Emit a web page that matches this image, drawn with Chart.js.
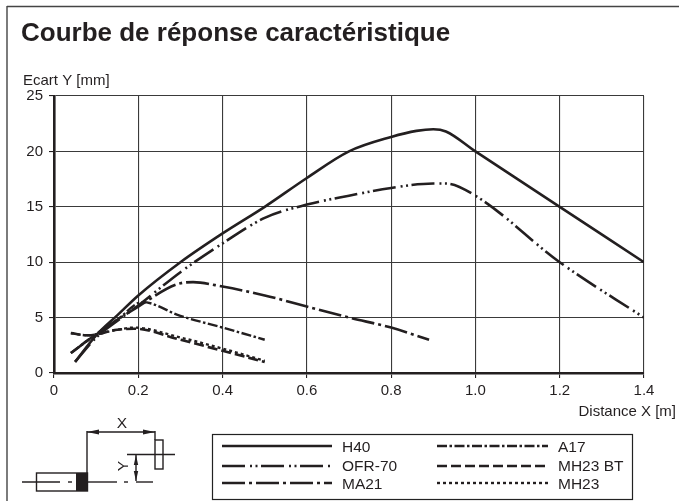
<!DOCTYPE html>
<html><head><meta charset="utf-8">
<style>html,body{margin:0;padding:0;background:#fff;overflow:hidden}#w{position:relative;width:679px;height:501px}canvas{position:absolute;left:0;top:0}</style>
<script src="https://cdn.jsdelivr.net/npm/chart.js@4"></script></head>
<body><div id="w"><canvas id="c" width="679" height="501"></canvas></div>
<script>
const title = "Courbe de réponse caractéristique";
const yTitle = "Ecart Y [mm]";
const xTitle = "Distance X [m]";
const seriesNames = ["H40","OFR-70","MA21","A17","MH23 BT","MH23"];
const h40X = [0.05,0.1,0.15,0.2,0.3,0.4,0.5,0.6,0.7,0.8,0.86,0.9,0.93,1.0,1.2,1.4];
const h40Y = [1,3.4,5.2,7,10,12.6,15,17.6,20,21.3,21.85,22,21.8,20,15,10];
const ofrX = [0.05,0.1,0.15,0.2,0.3,0.4,0.5,0.6,0.7,0.8,0.9,0.93,1.0,1.2,1.4];
const ofrY = [1,3.2,4.7,6.1,9.1,11.7,14,15.2,16,16.7,17.1,17.1,16,10,5];
const ma21X = [0.04,0.1,0.2,0.3,0.33,0.4,0.5,0.6,0.7,0.8,0.89];
const ma21Y = [1.8,3.5,6,8.1,8.2,7.8,7,6,5,4.1,3];
const a17X = [0.04,0.1,0.15,0.21,0.3,0.4,0.5];
const a17Y = [1.8,3.5,4.8,6.4,5.15,4.1,3];
const bt23X = [0.04,0.08,0.15,0.19,0.3,0.4,0.5];
const bt23Y = [3.6,3.4,3.9,4,3,2,1];
const mh23X = [0.04,0.08,0.15,0.19,0.3,0.4,0.5];
const mh23Y = [3.6,3.4,3.9,4.1,3.2,2.2,1.1];
const xTicks = [0,0.2,0.4,0.6,0.8,1.0,1.2,1.4];
const yTicks = [0,5,10,15,20,25];
const ink = "#231f20";
const zip = (a,b)=>a.map((x,i)=>({x,y:b[i]}));
const dashes = [[],[23,5,2,3.5,2,3.5],[23,4,3,4],[10,2.5,2.5,2.5],[10,4],[3,3]];
const widths = [2.6,2.6,2.6,2.4,2.6,2.4];
const xs=[h40X,ofrX,ma21X,a17X,bt23X,mh23X], ys=[h40Y,ofrY,ma21Y,a17Y,bt23Y,mh23Y];

function arrow(c,x1,y1,x2,y2,len,hw){
  const a=Math.atan2(y2-y1,x2-x1);
  c.beginPath();c.moveTo(x2,y2);
  c.lineTo(x2-len*Math.cos(a)+hw*Math.sin(a),y2-len*Math.sin(a)-hw*Math.cos(a));
  c.lineTo(x2-len*Math.cos(a)-hw*Math.sin(a),y2-len*Math.sin(a)+hw*Math.cos(a));
  c.closePath();c.fill();
}
function seg(c,x1,y1,x2,y2){c.beginPath();c.moveTo(x1,y1);c.lineTo(x2,y2);c.stroke();}
const decor = {
 id:"decor",
 afterDraw(ch){
  const c=ch.ctx;
  c.save();
  c.fillStyle=ink;c.strokeStyle="#444";c.lineWidth=1.4;
  seg(c,7,6.5,679,6.5);seg(c,7,6,7,501);
  c.textBaseline="alphabetic";c.textAlign="left";
  c.font="bold 26px 'Liberation Sans'";c.fillText(title,21,41);
  c.font="15px 'Liberation Sans'";c.fillText(yTitle,23,85);
  c.textAlign="right";c.fillText(xTitle,676,416);
  c.textAlign="left";
  // legend
  c.lineWidth=1.2;c.strokeStyle="#222";c.strokeRect(212.5,434.5,420,65);
  const lineY=[446,466,483], textY=[452,471,489];
  const colX=[[222,332,342],[437,548,558]];
  seriesNames.forEach((n,i)=>{
    const col=i<3?0:1,row=i%3,[a,b,t]=colX[col];
    c.setLineDash(dashes[i]);c.lineWidth=widths[i];c.strokeStyle=ink;
    seg(c,a,lineY[row],b,lineY[row]);
    c.setLineDash([]);
    c.font="15.5px 'Liberation Sans'";c.fillText(n,t,textY[row]);
  });
  // sensor sketch
  c.strokeStyle=ink;c.lineWidth=1.4;
  c.strokeRect(36.5,473,51,18);
  c.fillRect(76,473,12,18);
  seg(c,22,482,60,482);seg(c,68,482,72,482);seg(c,88,482,117,482);seg(c,124,482,128,482);seg(c,136,482,153,482);
  seg(c,87,431,87,473);seg(c,155,431,155,440);
  seg(c,87,432,155,432);
  arrow(c,155,432,87,432,12,2.6);arrow(c,87,432,155,432,12,2.6);
  c.strokeRect(155,440,8,29);
  seg(c,127,454.5,175,454.5);
  seg(c,136,455,136,481);
  arrow(c,136,481,136,455,10,2.2);arrow(c,136,455,136,481,10,2.2);
  c.textAlign="center";c.font="15.5px 'Liberation Sans'";c.fillText("X",122,428);
  c.save();c.translate(127.5,466);c.rotate(-Math.PI/2);c.fillText("Y",0,0);c.restore();
  c.restore();
 }
};
new Chart(document.getElementById("c"),{
 type:"line",
 data:{datasets:seriesNames.map((n,i)=>({label:n,data:zip(xs[i],ys[i]),borderColor:ink,borderWidth:widths[i],borderDash:dashes[i],pointRadius:0,fill:false,cubicInterpolationMode:"monotone"}))},
 plugins:[decor],
 options:{responsive:false,animation:false,devicePixelRatio:1,
  layout:{padding:{left:0,top:96,right:35,bottom:100}},
  plugins:{legend:{display:false},title:{display:false},tooltip:{enabled:false}},
  scales:{
   x:{type:"linear",min:0,max:1.4,afterBuildTicks(s){s.ticks=xTicks.map(v=>({value:v}))},afterFit(s){s.height=28},
      grid:{color:"#3a3a3a",lineWidth:1.1,tickLength:5,tickColor:ink},border:{display:true,width:2.6,color:ink},
      ticks:{color:ink,font:{family:"Liberation Sans",size:15},maxRotation:0,autoSkip:false,padding:4,callback:v=>v===0?"0":v.toFixed(1)}},
   y:{min:0,max:25,afterBuildTicks(s){s.ticks=yTicks.map(v=>({value:v}))},afterFit(s){s.width=54},
      grid:{color:"#3a3a3a",lineWidth:1.1,tickLength:5,tickColor:ink},border:{display:true,width:2.6,color:ink},
      ticks:{color:ink,font:{family:"Liberation Sans",size:15},padding:6}}
  }}
});
</script></body></html>
